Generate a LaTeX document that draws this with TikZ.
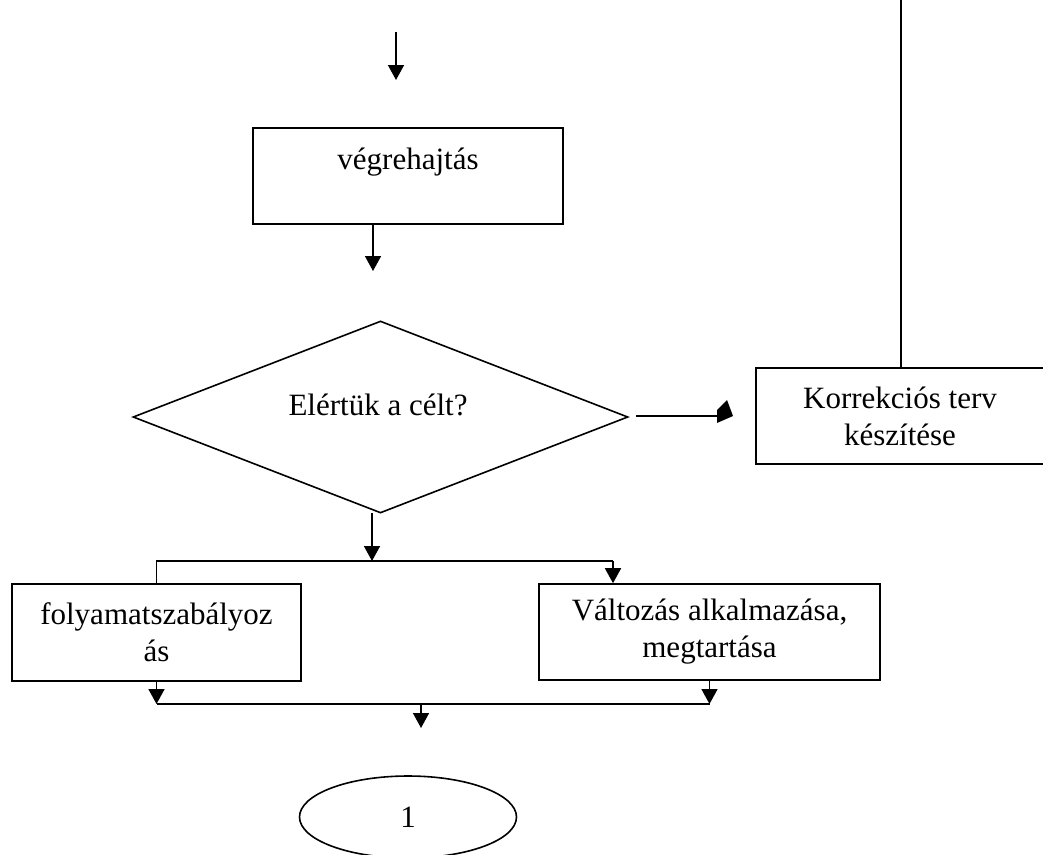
\documentclass[tikz,border=0pt]{standalone}
\usepackage{fontspec}
\setmainfont{Liberation Serif}
\usetikzlibrary{shapes.geometric,arrows.meta}
\begin{document}
\begin{tikzpicture}[x=1pt,y=-1pt,line width=1.6pt,
  box/.style={draw,rectangle,inner sep=0pt,align=center,font=\fontsize{31}{37}\selectfont},
  txt/.style={inner sep=0pt,align=center,font=\fontsize{31}{37}\selectfont},
  arr/.style={-{Triangle[width=16pt,length=15pt]}}]
\useasboundingbox (0,0) rectangle (1043,854);
\clip (0,0) rectangle (1043,854);
% nodes
\node[box,minimum width=310pt,minimum height=96pt] (exec) at (408,176) {};
\node[txt] (exectext) at (408,162) {végrehajtás};
\node[draw,diamond,inner sep=0pt,minimum width=495pt,minimum height=192pt] (dec) at (380.5,417) {};
\node[txt] (dectext) at (378,405) {Elértük a célt?};
\node[box,minimum width=288pt,minimum height=96pt] (corr) at (900,416) {Korrekciós terv\\készítése};
\node[box,minimum width=289pt,minimum height=97pt] (left) at (156.5,632.5) {folyamatszabályoz\\ás};
\node[box,minimum width=341pt,minimum height=96pt] (right) at (709.5,632) {Változás alkalmazása,\\megtartása};
\node[draw,ellipse,inner sep=0pt,minimum width=217pt,minimum height=82pt,font=\fontsize{31}{37}\selectfont] (one) at (408,817) {1};
% coordinates
\coordinate (t0) at (396,32);
\coordinate (t1) at (396,80);
\coordinate (a1) at (373,271);
\coordinate (r0) at (636,416);
\coordinate (r1) at (717,416);
\coordinate (v0) at (901,0);
\coordinate (d0) at (372,513);
\coordinate (j) at (372,561);
\coordinate (jr) at (613,561);
\coordinate (m) at (421,704);
\coordinate (m1) at (421,728);
% connectors
\draw[arr] (t0) -- (t1);
\draw[arr] (exec.south -| a1) -- (a1);
\draw (r0) -- (r1);
\fill[shift={(r1)}] (0,-6) -- (10,-16) -- (16,0) -- (0,7) -- cycle;
\draw (corr.north -| v0) -- (v0);
\draw[arr] (d0) -- (j);
\draw (left.north) |- (jr);
\draw[arr] (jr) -- (right.north -| jr);
\draw[arr] (left.south) -- (left.south |- m);
\draw[arr] (right.south) -- (right.south |- m);
\draw (left.south |- m) -- (right.south |- m);
\draw[arr] (m) -- (m1);
\end{tikzpicture}
\end{document}
